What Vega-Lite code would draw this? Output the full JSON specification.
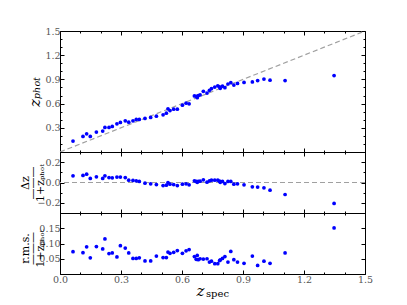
{
  "$schema": "https://vega.github.io/schema/vega-lite/v6.json",
  "padding": {"left": 18, "top": 25, "right": 5, "bottom": 5},
  "background": "white",
  "bounds": "flush",
  "spacing": 0,
  "data": {"values": [
    {"zspec":0.064,"zphot":0.136,"dz":0.066,"rms":0.073},
    {"zspec":0.113,"zphot":0.193,"dz":0.069,"rms":0.070},
    {"zspec":0.131,"zphot":0.226,"dz":0.082,"rms":0.089},
    {"zspec":0.149,"zphot":0.193,"dz":0.040,"rms":0.053},
    {"zspec":0.179,"zphot":0.247,"dz":0.056,"rms":0.090},
    {"zspec":0.210,"zphot":0.259,"dz":0.040,"rms":0.082},
    {"zspec":0.221,"zphot":0.305,"dz":0.066,"rms":0.115},
    {"zspec":0.241,"zphot":0.305,"dz":0.049,"rms":0.067},
    {"zspec":0.257,"zphot":0.317,"dz":0.046,"rms":0.069},
    {"zspec":0.280,"zphot":0.350,"dz":0.053,"rms":0.056},
    {"zspec":0.297,"zphot":0.366,"dz":0.053,"rms":0.093},
    {"zspec":0.321,"zphot":0.387,"dz":0.049,"rms":0.085},
    {"zspec":0.338,"zphot":0.370,"dz":0.023,"rms":0.069},
    {"zspec":0.359,"zphot":0.387,"dz":0.020,"rms":0.051},
    {"zspec":0.375,"zphot":0.403,"dz":0.017,"rms":0.051},
    {"zspec":0.390,"zphot":0.403,"dz":0.010,"rms":0.053},
    {"zspec":0.418,"zphot":0.416,"dz":-0.007,"rms":0.043},
    {"zspec":0.446,"zphot":0.428,"dz":-0.013,"rms":0.043},
    {"zspec":0.474,"zphot":0.444,"dz":-0.020,"rms":0.059},
    {"zspec":0.507,"zphot":0.461,"dz":-0.030,"rms":0.054},
    {"zspec":0.523,"zphot":0.481,"dz":-0.026,"rms":0.054},
    {"zspec":0.531,"zphot":0.535,"dz":0.000,"rms":0.072},
    {"zspec":0.541,"zphot":0.514,"dz":-0.016,"rms":0.068},
    {"zspec":0.559,"zphot":0.531,"dz":-0.020,"rms":0.071},
    {"zspec":0.577,"zphot":0.531,"dz":-0.030,"rms":0.077},
    {"zspec":0.602,"zphot":0.580,"dz":-0.016,"rms":0.068},
    {"zspec":0.620,"zphot":0.605,"dz":-0.013,"rms":0.076},
    {"zspec":0.635,"zphot":0.597,"dz":-0.023,"rms":0.080},
    {"zspec":0.661,"zphot":0.695,"dz":0.017,"rms":0.057},
    {"zspec":0.670,"zphot":0.691,"dz":0.010,"rms":0.048},
    {"zspec":0.675,"zphot":0.673,"dz":0.002,"rms":0.061},
    {"zspec":0.680,"zphot":0.700,"dz":0.010,"rms":0.047},
    {"zspec":0.689,"zphot":0.708,"dz":0.013,"rms":0.050},
    {"zspec":0.705,"zphot":0.753,"dz":0.026,"rms":0.049},
    {"zspec":0.723,"zphot":0.730,"dz":0.003,"rms":0.050},
    {"zspec":0.735,"zphot":0.765,"dz":0.016,"rms":0.039},
    {"zspec":0.745,"zphot":0.786,"dz":0.023,"rms":0.042},
    {"zspec":0.761,"zphot":0.805,"dz":0.023,"rms":0.034},
    {"zspec":0.776,"zphot":0.820,"dz":0.023,"rms":0.034},
    {"zspec":0.785,"zphot":0.808,"dz":0.013,"rms":0.044},
    {"zspec":0.788,"zphot":0.790,"dz":0.002,"rms":0.046},
    {"zspec":0.799,"zphot":0.816,"dz":0.010,"rms":0.051},
    {"zspec":0.811,"zphot":0.798,"dz":-0.010,"rms":0.057},
    {"zspec":0.826,"zphot":0.843,"dz":0.010,"rms":0.039},
    {"zspec":0.840,"zphot":0.860,"dz":0.010,"rms":0.074},
    {"zspec":0.855,"zphot":0.830,"dz":-0.016,"rms":0.047},
    {"zspec":0.873,"zphot":0.850,"dz":-0.013,"rms":0.039},
    {"zspec":0.905,"zphot":0.863,"dz":-0.023,"rms":0.035},
    {"zspec":0.946,"zphot":0.868,"dz":-0.042,"rms":0.059},
    {"zspec":0.972,"zphot":0.885,"dz":-0.045,"rms":0.028},
    {"zspec":1.003,"zphot":0.904,"dz":-0.052,"rms":0.042},
    {"zspec":1.033,"zphot":0.890,"dz":-0.075,"rms":0.035},
    {"zspec":1.107,"zphot":0.885,"dz":-0.118,"rms":0.069},
    {"zspec":1.348,"zphot":0.947,"dz":-0.206,"rms":0.151}
  ]},
  "vconcat": [
    {
      "width": 305, "height": 121,
      "layer": [
        {
          "data": {"values": [{"v": 0}, {"v": 1.5}]},
          "mark": {"type": "line", "color": "#a0a0a0", "strokeDash": [5, 3], "strokeWidth": 1.2},
          "encoding": {
            "x": {"field": "v", "type": "quantitative", "scale": {"domain": [0, 1.5]}, "axis": null},
            "y": {"field": "v", "type": "quantitative", "scale": {"domain": [0, 1.5]}, "axis": null}
          }
        },
        {
          "mark": {"type": "circle", "color": "#0000ff", "size": 14, "opacity": 1},
          "encoding": {
            "x": {"field": "zspec", "type": "quantitative", "scale": {"domain": [0, 1.5]},
              "axis": {"orient": "bottom", "values": [0,0.1,0.2,0.3,0.4,0.5,0.6,0.7,0.8,0.9,1,1.1,1.2,1.3,1.4,1.5], "labels": false, "title": null,
                "tickSize": {"condition": {"test": "round(datum.value*10)%3==0", "value": -4}, "value": -2}}},
            "y": {"field": "zphot", "type": "quantitative", "scale": {"domain": [0, 1.5]},
              "axis": {"orient": "left", "values": [0,0.1,0.2,0.3,0.4,0.5,0.6,0.7,0.8,0.9,1,1.1,1.2,1.3,1.4,1.5],
                "labelExpr": "round(datum.value*10)%3==0 && datum.value>0.01 ? format(datum.value,'.1f') : ''",
                "tickSize": {"condition": {"test": "round(datum.value*10)%3==0", "value": -4}, "value": -2},
                "title": "zₚₕₒₜ", "titleX": -26, "titleY": 60.5, "titleAlign": "center", "titleBaseline": "middle", "titleFontSize": 15, "titleFontStyle": "italic"}}
          }
        },
        {
          "mark": {"type": "circle", "opacity": 0},
          "encoding": {
            "x": {"field": "zspec", "type": "quantitative", "scale": {"domain": [0, 1.5]},
              "axis": {"orient": "top", "values": [0,0.1,0.2,0.3,0.4,0.5,0.6,0.7,0.8,0.9,1,1.1,1.2,1.3,1.4,1.5], "labels": false, "title": null,
                "tickSize": {"condition": {"test": "round(datum.value*10)%3==0", "value": -4}, "value": -2}}},
            "y": {"field": "zphot", "type": "quantitative", "scale": {"domain": [0, 1.5]},
              "axis": {"orient": "right", "values": [0,0.1,0.2,0.3,0.4,0.5,0.6,0.7,0.8,0.9,1,1.1,1.2,1.3,1.4,1.5], "labels": false, "title": null,
                "tickSize": {"condition": {"test": "round(datum.value*10)%3==0", "value": -4}, "value": -2}}}
          }
        }
      ],
      "resolve": {"axis": {"x": "independent", "y": "independent"}}
    },
    {
      "width": 305, "height": 61,
      "layer": [
        {
          "mark": {"type": "rule", "color": "#a0a0a0", "strokeDash": [5, 3], "strokeWidth": 1.2},
          "encoding": {"y": {"datum": 0, "type": "quantitative", "scale": {"domain": [-0.3, 0.3]}, "axis": null}}
        },
        {
          "mark": {"type": "circle", "color": "#0000ff", "size": 14, "opacity": 1},
          "encoding": {
            "x": {"field": "zspec", "type": "quantitative", "scale": {"domain": [0, 1.5]},
              "axis": {"orient": "bottom", "values": [0,0.1,0.2,0.3,0.4,0.5,0.6,0.7,0.8,0.9,1,1.1,1.2,1.3,1.4,1.5], "labels": false, "title": null,
                "tickSize": {"condition": {"test": "round(datum.value*10)%3==0", "value": -4}, "value": -2}}},
            "y": {"field": "dz", "type": "quantitative", "scale": {"domain": [-0.3, 0.3]},
              "axis": {"orient": "left", "values": [-0.3,-0.2,-0.1,0,0.1,0.2,0.3],
                "labelExpr": "abs(datum.value)<0.25 && round(datum.value*10)%2==0 ? format(datum.value,'.1f') : ''",
                "tickSize": {"condition": {"test": "abs(datum.value)<0.25 && round(datum.value*10)%2==0", "value": -4}, "value": -2},
                "title": ["Δz", "———", "1+zₚₕₒₜ"], "titleX": -35, "titleY": 30.5, "titleAlign": "center", "titleBaseline": "middle", "titleFontSize": 11, "titleLineHeight": 7.5}}
          }
        },
        {
          "mark": {"type": "circle", "opacity": 0},
          "encoding": {
            "x": {"field": "zspec", "type": "quantitative", "scale": {"domain": [0, 1.5]},
              "axis": {"orient": "top", "values": [0,0.1,0.2,0.3,0.4,0.5,0.6,0.7,0.8,0.9,1,1.1,1.2,1.3,1.4,1.5], "labels": false, "title": null,
                "tickSize": {"condition": {"test": "round(datum.value*10)%3==0", "value": -4}, "value": -2}}},
            "y": {"field": "dz", "type": "quantitative", "scale": {"domain": [-0.3, 0.3]},
              "axis": {"orient": "right", "values": [-0.3,-0.2,-0.1,0,0.1,0.2,0.3], "labels": false, "title": null,
                "tickSize": {"condition": {"test": "abs(datum.value)<0.25 && round(datum.value*10)%2==0", "value": -4}, "value": -2}}}
          }
        }
      ],
      "resolve": {"axis": {"x": "independent", "y": "independent"}}
    },
    {
      "width": 305, "height": 61,
      "layer": [
        {
          "mark": {"type": "circle", "color": "#0000ff", "size": 14, "opacity": 1},
          "encoding": {
            "x": {"field": "zspec", "type": "quantitative", "scale": {"domain": [0, 1.5]},
              "axis": {"orient": "bottom", "values": [0,0.1,0.2,0.3,0.4,0.5,0.6,0.7,0.8,0.9,1,1.1,1.2,1.3,1.4,1.5],
                "labelExpr": "round(datum.value*10)%3==0 ? format(datum.value,'.1f') : ''",
                "tickSize": {"condition": {"test": "round(datum.value*10)%3==0", "value": -4}, "value": -2},
                "title": "z", "titleX": 140, "titleY": 21, "titleAlign": "center", "titleBaseline": "alphabetic", "titleFontSize": 15, "titleFontStyle": "italic"}},
            "y": {"field": "rms", "type": "quantitative", "scale": {"domain": [0, 0.2]},
              "axis": {"orient": "left", "values": [0,0.05,0.1,0.15,0.2],
                "labelExpr": "datum.value>0.01 && datum.value<0.19 ? format(datum.value,'.2f') : ''",
                "tickSize": -4,
                "title": ["r.m.s.", "———", "1+zₚₕₒₜ"], "titleX": -35, "titleY": 35, "titleAlign": "center", "titleBaseline": "middle", "titleFontSize": 11, "titleLineHeight": 7.5}}
          }
        },
        {
          "mark": {"type": "circle", "opacity": 0},
          "encoding": {
            "x": {"field": "zspec", "type": "quantitative", "scale": {"domain": [0, 1.5]},
              "axis": {"orient": "top", "values": [0,0.1,0.2,0.3,0.4,0.5,0.6,0.7,0.8,0.9,1,1.1,1.2,1.3,1.4,1.5], "labels": false,
                "tickSize": {"condition": {"test": "round(datum.value*10)%3==0", "value": -4}, "value": -2},
                "title": "spec", "titleX": 157, "titleY": 83, "titleAlign": "center", "titleBaseline": "alphabetic", "titleFontSize": 10}},
            "y": {"field": "rms", "type": "quantitative", "scale": {"domain": [0, 0.2]},
              "axis": {"orient": "right", "values": [0,0.05,0.1,0.15,0.2], "labels": false, "title": null, "tickSize": -4}}
          }
        }
      ],
      "resolve": {"axis": {"x": "independent", "y": "independent"}}
    }
  ],
  "config": {
    "view": {"stroke": "black", "strokeWidth": 1},
    "axis": {
      "grid": false, "domain": false, "labelFont": "DejaVu Serif", "labelFontSize": 9.5, "labelColor": "#555555",
      "tickColor": "black", "tickWidth": 1, "labelPadding": 4, "labelFlush": false, "labelOverlap": false,
      "titleFont": "DejaVu Serif", "titleFontWeight": "normal", "titleColor": "black", "titlePadding": 4
    }
  }
}
